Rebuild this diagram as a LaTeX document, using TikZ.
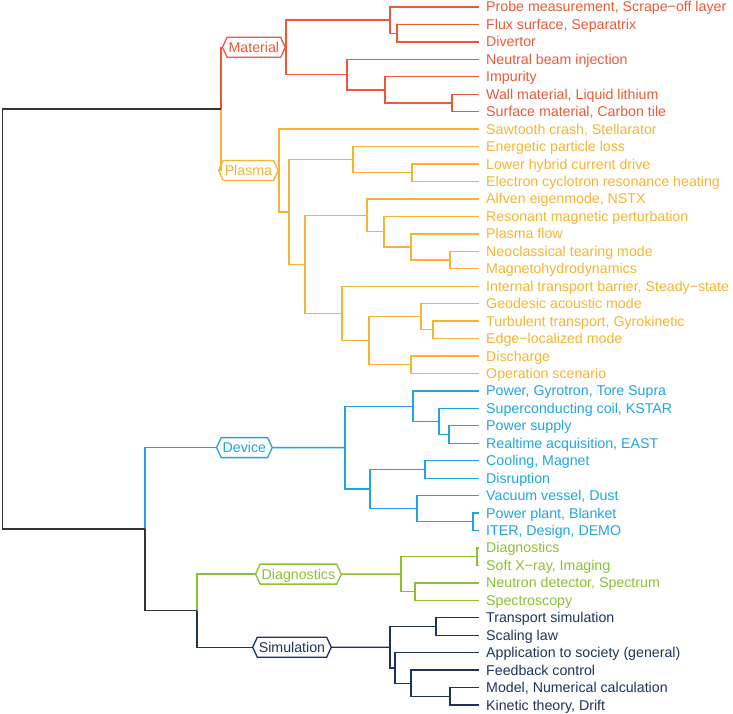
\documentclass[tikz,border=0pt]{standalone}
\usepackage{fontspec}
\setmainfont{Liberation Sans}
\usetikzlibrary{shapes.symbols}

\definecolor{matrot}{RGB}{232,90,56}
\definecolor{plasmagelb}{RGB}{245,180,50}
\definecolor{geraetblau}{RGB}{34,164,224}
\definecolor{diaggruen}{RGB}{141,192,48}
\definecolor{simblau}{RGB}{28,52,93}
\definecolor{stamm}{RGB}{51,51,51}

\tikzset{
	blatt/.style={anchor=west, inner xsep=7pt, inner ysep=0pt, text height=10pt, text depth=0pt, font=\fontsize{14.2}{16}\selectfont},
	gruppe/.style={signal, signal to=east and west, signal pointer angle=130, draw=#1, text=#1, fill=white, line width=1.3pt, anchor=east, minimum height=20pt, inner xsep=1.5pt, inner ysep=0pt, text height=10pt, text depth=0pt, font=\fontsize{14.2}{16}\selectfont},
	ast/.style={draw=#1, line width=1.3pt},
	stammlinie/.style={draw=stamm, line width=1.6pt},
}

\begin{document}
\begin{tikzpicture}[x=1pt,y=-1pt]
		\useasboundingbox (0,0) rectangle (733,714);
		
		% Blätter
		\foreach \txt [count=\i] in {{Probe measurement, Scrape−off layer},{Flux surface, Separatrix},Divertor,Neutral beam injection,Impurity,{Wall material, Liquid lithium},{Surface material, Carbon tile}}
		\node[blatt, text=matrot] (l\i) at (479,{7+(\i-1)*17.45}) {\txt};
		\foreach \txt [count=\i from 8] in {{Sawtooth crash, Stellarator},Energetic particle loss,Lower hybrid current drive,Electron cyclotron resonance heating,{Alfven eigenmode, NSTX},Resonant magnetic perturbation,Plasma flow,Neoclassical tearing mode,Magnetohydrodynamics,{Internal transport barrier, Steady−state},Geodesic acoustic mode,{Turbulent transport, Gyrokinetic},Edge−localized mode,Discharge,Operation scenario}
		\node[blatt, text=plasmagelb] (l\i) at (479,{7+(\i-1)*17.45}) {\txt};
		\foreach \txt [count=\i from 23] in {{Power, Gyrotron, Tore Supra},{Superconducting coil, KSTAR},Power supply,{Realtime acquisition, EAST},{Cooling, Magnet},Disruption,{Vacuum vessel, Dust},{Power plant, Blanket},{ITER, Design, DEMO}}
		\node[blatt, text=geraetblau] (l\i) at (479,{7+(\i-1)*17.45}) {\txt};
		\foreach \txt [count=\i from 32] in {Diagnostics,{Soft X−ray, Imaging},{Neutron detector, Spectrum},Spectroscopy}
		\node[blatt, text=diaggruen] (l\i) at (479,{7+(\i-1)*17.45}) {\txt};
		\foreach \txt [count=\i from 36] in {Transport simulation,Scaling law,Application to society (general),Feedback control,{Model, Numerical calculation},{Kinetic theory, Drift}}
		\node[blatt, text=simblau] (l\i) at (479,{7+(\i-1)*17.45}) {\txt};
		
		% Verzweigungen Material
		\coordinate (mfd) at (397,33.18);
		\coordinate (mpf) at (390,20.09);
		\coordinate (mws) at (452,102.98);
		\coordinate (miw) at (385,89.89);
		\coordinate (mni) at (347,74.62);
		\coordinate (mtop) at (286,47.35);
		
		% Verzweigungen Plasma
		\coordinate (ple) at (412,172.78);
		\coordinate (pel) at (353,159.69);
		\coordinate (pnm) at (450,260.03);
		\coordinate (ppn) at (411,246.94);
		\coordinate (prp) at (384,231.67);
		\coordinate (par) at (367,215.31);
		\coordinate (pte) at (433,329.83);
		\coordinate (pgt) at (421,316.74);
		\coordinate (pdo) at (411,364.73);
		\coordinate (pgd) at (369,340.73);
		\coordinate (pig) at (342,313.47);
		\coordinate (pai) at (305,264.39);
		\coordinate (pea) at (289,212.04);
		\coordinate (ptop) at (279,170.6);
		
		% Verzweigungen Device
		\coordinate (dpr) at (449,434.53);
		\coordinate (dsp) at (439,421.44);
		\coordinate (dps) at (413,406.17);
		\coordinate (dcd) at (425,469.43);
		\coordinate (dpi) at (473,521.78);
		\coordinate (dvp) at (417,508.69);
		\coordinate (dcv) at (370,489.06);
		\coordinate (dtop) at (345,447.6);
		
		% Verzweigungen Diagnostics
		\coordinate (gds) at (477,556.68);
		\coordinate (gns) at (415,591.58);
		\coordinate (gtop) at (401,574.13);
		
		% Verzweigungen Simulation
		\coordinate (sts) at (436,626.48);
		\coordinate (smk) at (450,696.28);
		\coordinate (sfm) at (411,683.19);
		\coordinate (saf) at (395,667.92);
		\coordinate (stop) at (390,647.2);
		
		% Stamm
		\coordinate (mp) at (221,108.97);
		\coordinate (dds) at (145,529.1);
		\coordinate (ds) at (197,610.67);
		\coordinate (wurzel) at (2.5,319);
		
		% Gruppen
		\node[gruppe=matrot] (material) at (mtop) {Material};
		\node[gruppe=plasmagelb] (plasma) at (ptop) {Plasma};
		\node[gruppe=geraetblau] (device) at (273,447.6) {Device};
		\node[gruppe=diaggruen] (diagnostics) at (342,574.13) {Diagnostics};
		\node[gruppe=simblau] (simulation) at (332,647.2) {Simulation};
		
		% Zweige
		\foreach \a/\j/\b in {l2/mfd/l3,l1/mpf/mfd,l6/mws/l7,l5/miw/mws,l4/mni/miw,mpf/mtop/mni}
		\draw[ast=matrot] (\a) -| (\j) |- (\b);
		\foreach \a/\j/\b in {l10/ple/l11,l9/pel/ple,l15/pnm/l16,l14/ppn/pnm,l13/prp/ppn,l12/par/prp,l19/pte/l20,l18/pgt/pte,l21/pdo/l22,pgt/pgd/pdo,l17/pig/pgd,par/pai/pig,pel/pea/pai,l8/ptop/pea}
		\draw[ast=plasmagelb] (\a) -| (\j) |- (\b);
		\foreach \a/\j/\b in {l25/dpr/l26,l24/dsp/dpr,l23/dps/dsp,l27/dcd/l28,l30/dpi/l31,l29/dvp/dpi,dcd/dcv/dvp,dps/dtop/dcv}
		\draw[ast=geraetblau] (\a) -| (\j) |- (\b);
		\foreach \a/\j/\b in {l32/gds/l33,l34/gns/l35,gds/gtop/gns}
		\draw[ast=diaggruen] (\a) -| (\j) |- (\b);
		\foreach \a/\j/\b in {l36/sts/l37,l40/smk/l41,l39/sfm/smk,l38/saf/sfm,sts/stop/saf}
		\draw[ast=simblau] (\a) -| (\j) |- (\b);
		
		% Gruppen anbinden
		\draw[ast=geraetblau] (device) -- (dtop);
		\draw[ast=diaggruen] (diagnostics) -- (gtop);
		\draw[ast=simblau] (simulation) -- (stop);
		\draw[ast=matrot] (mp) |- (material);
		\draw[ast=plasmagelb] (mp) |- (plasma);
		\draw[ast=geraetblau] (dds) |- (device);
		\draw[ast=diaggruen] (ds) |- (diagnostics);
		\draw[ast=simblau] (ds) |- (simulation);
		
		% Stamm
		\draw[stammlinie] (mp) -| (wurzel) |- (dds);
		\draw[stammlinie] (dds) |- (ds);
	\end{tikzpicture}
\end{document}
